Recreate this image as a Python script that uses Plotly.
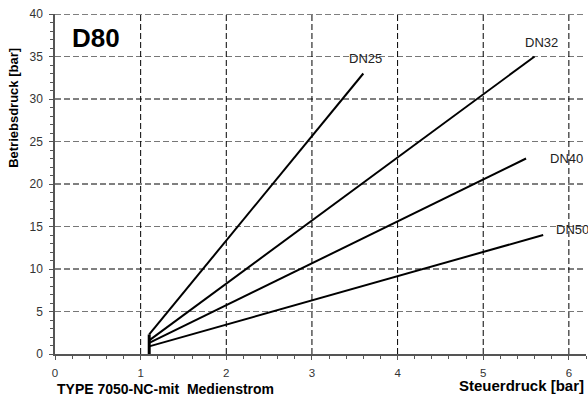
import plotly.graph_objects as go

series_names = ["DN25", "DN32", "DN40", "DN50"]
x_start = [1.1, 1.1, 1.1, 1.1]
y_start = [2.3, 1.6, 1.3, 0.9]
x_end = [3.6, 5.6, 5.5, 5.7]
y_end = [33, 35, 23, 14]
label_x = [3.62, 5.68, 5.76, 5.83]
label_y = [34.8, 36.6, 23.0, 14.6]
label_anchor = ["center", "center", "left", "left"]
vert_x = [1.1, 1.1]
vert_y = [0, 2.3]
x_ticks = [0, 1, 2, 3, 4, 5, 6]
y_ticks = [0, 5, 10, 15, 20, 25, 30, 35, 40]

FONT = "Liberation Sans, Arial"

fig = go.Figure()
fig.add_trace(go.Scatter(x=vert_x, y=vert_y, mode="lines",
                         line=dict(color="black", width=3), showlegend=False))
for i, n in enumerate(series_names):
    fig.add_trace(go.Scatter(x=[x_start[i], x_end[i]], y=[y_start[i], y_end[i]],
                             mode="lines", line=dict(color="black", width=2),
                             name=n, showlegend=False))
    fig.add_annotation(x=label_x[i], y=label_y[i], text=n, showarrow=False,
                       xanchor=label_anchor[i], yanchor="middle",
                       font=dict(family=FONT, size=13, color="#222"))

shapes = []
for v in y_ticks[1:]:
    col = "black" if v % 10 == 0 else "#777"
    shapes.append(dict(type="line", xref="x", yref="y", x0=0, x1=6.2, y0=v, y1=v,
                       line=dict(color=col, width=1, dash="6px,3px"), layer="below"))
for v in x_ticks[1:]:
    shapes.append(dict(type="line", xref="x", yref="y", x0=v, x1=v, y0=0, y1=40,
                       line=dict(color="black", width=1, dash="6px,3px"), layer="below"))
fig.update_layout(shapes=shapes)

fig.add_annotation(xref="paper", yref="paper", x=0.028, y=0.929, text="<b>D80</b>",
                   showarrow=False, xanchor="left", yanchor="middle",
                   font=dict(family=FONT, size=26, color="black"))
fig.add_annotation(xref="paper", yref="paper", x=1.0, y=0, yshift=-31,
                   text="<b>Steuerdruck [bar]</b>",
                   showarrow=False, xanchor="right", yanchor="middle",
                   font=dict(family=FONT, size=15, color="black"))
fig.add_annotation(xref="paper", yref="paper", x=0.0, y=0, yshift=-35,
                   text="<b>TYPE 7050-NC-mit\u00a0 Medienstrom</b>",
                   showarrow=False, xanchor="left", yanchor="middle",
                   font=dict(family=FONT, size=14, color="black"))
fig.add_annotation(xref="paper", yref="paper", x=0.0, y=0.724, xshift=-41,
                   text="<b>Betriebsdruck [bar]</b>", textangle=-90,
                   showarrow=False, xanchor="center", yanchor="middle",
                   font=dict(family=FONT, size=13, color="black"))

fig.update_xaxes(range=[0, 6.2], tickvals=x_ticks, showgrid=False, zeroline=False,
                 showline=True, linecolor="#555", linewidth=1.5,
                 ticks="outside", ticklen=4, tickcolor="#555", ticklabelstandoff=3,
                 minor=dict(dtick=0.2, ticks="outside", ticklen=3, tickcolor="#555", showgrid=False),
                 tickfont=dict(family=FONT, size=11.5, color="#333"))
fig.update_yaxes(range=[0, 40], tickvals=y_ticks, showgrid=False, zeroline=False,
                 showline=True, linecolor="#555", linewidth=1.5,
                 ticks="outside", ticklen=4, tickcolor="#555", ticklabelstandoff=4,
                 minor=dict(dtick=1, ticks="outside", ticklen=3, tickcolor="#555", showgrid=False),
                 tickfont=dict(family=FONT, size=12, color="#333"))

fig.update_layout(width=588, height=397, margin=dict(l=55, r=2, t=14, b=43, autoexpand=False),
                  plot_bgcolor="white", paper_bgcolor="white")
fig.write_html("out.html", config={"displayModeBar": False},
               post_script="document.body.style.margin='0';document.body.style.overflow='hidden';")
